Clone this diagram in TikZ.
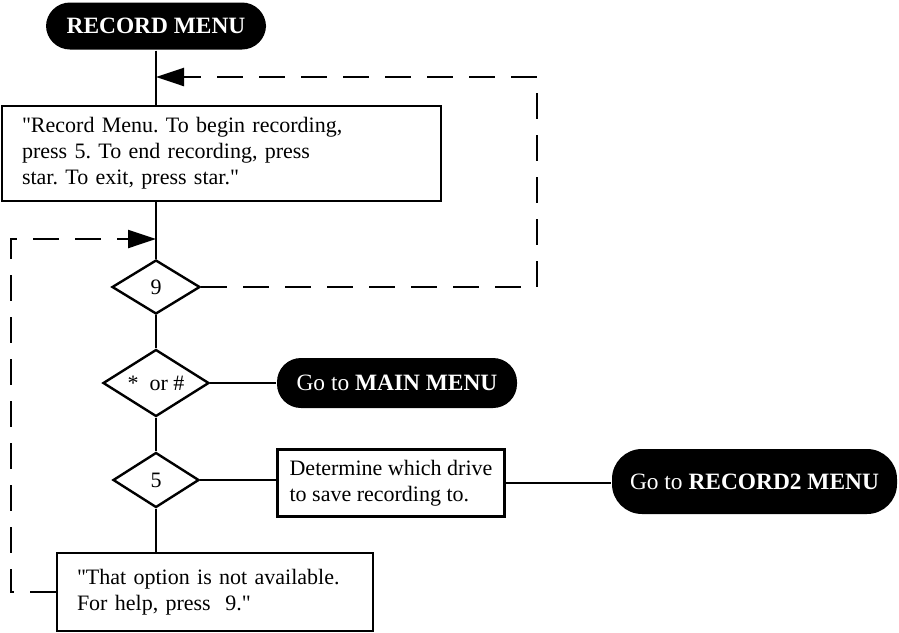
\documentclass[tikz,border=0pt]{standalone}
\usepackage{fontspec}
\setmainfont{Liberation Serif}
\usetikzlibrary{shapes.geometric, arrows.meta}
\frenchspacing

\begin{document}
\begin{tikzpicture}[
    x=0.5pt, y=-0.5pt,
    line width=1.2pt,
    font=\fontsize{11}{13}\selectfont,
    menu/.style={rectangle, rounded corners=12pt, fill=black, text=white, inner sep=0pt,
        font=\fontsize{11.7}{14}\selectfont},
    prompt/.style={rectangle, draw, align=left, inner xsep=10pt, inner ysep=0pt},
    choice/.style={diamond, draw, inner sep=0pt, shape aspect=1.6},
    retry/.style={dashed, dash pattern=on 13pt off 8pt, -{Triangle[length=14pt,width=9pt]}}
]
    \useasboundingbox (0,0) rectangle (899,632);

    % Menu entry and its spoken prompt
    \node[menu, minimum width=110pt, minimum height=23.5pt] (rec) at (156,26) {\textbf{RECORD MENU}};
    \node[prompt, text width=199.5pt, minimum height=47.5pt] (intro) at (221.5,153.5)
        {\textquotedbl Record Menu. To begin recording,\\press 5. To end recording, press\\star. To exit, press star.\textquotedbl};

    % Key choices down the spine
    \node[choice, minimum width=44pt, minimum height=27pt] (nine) at (156,287) {9};
    \node[choice, minimum width=53pt, minimum height=33.5pt] (star) at (156,383) {*~ or \#};
    \node[choice, minimum width=43pt, minimum height=27.5pt] (five) at (156,480) {5};

    % Targets on the right
    \node[menu, minimum width=120pt, minimum height=25pt] (mainmenu) at (397,383) {Go to \textbf{MAIN MENU}};
    \node[prompt, inner xsep=4pt, minimum width=113.5pt, minimum height=33.5pt] (drive) at (391,483)
        {Determine which drive\\to save recording to.};
    \node[menu, minimum width=142.5pt, minimum height=32.5pt, rounded corners=15pt] (rectwo) at (754.5,481.5)
        {Go to \textbf{RECORD2 MENU}};

    % Invalid key
    \node[prompt, text width=138pt, minimum height=39pt] (nohelp) at (215,592)
        {\textquotedbl That option is not available.\\For help, press~ 9.\textquotedbl};

    \coordinate (backR) at (537,77);
    \coordinate (backL) at (11,239);

    % Solid flow
    \draw (rec.south) -- (rec.south |- intro.north);
    \draw (intro.south -| nine.north) -- (nine.north);
    \draw (nine) -- (star);
    \draw (star) -- (five);
    \draw (five.south) -- (five.south |- nohelp.north);
    \draw (star) -- (mainmenu);
    \draw (five.east) -- (five.east -| drive.west);
    \draw (drive.east) -- (drive.east -| rectwo.west);

    % Dashed returns
    \draw[retry] (nine.east) -| (backR) -- (backR -| rec.south);
    \draw[retry] (nohelp.west) -| (backL) -- (backL -| nine.north);
\end{tikzpicture}
\end{document}
